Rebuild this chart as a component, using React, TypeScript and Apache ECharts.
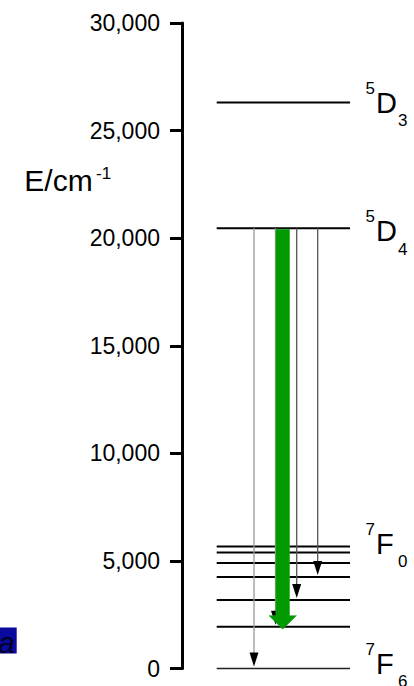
import React, { useEffect, useRef } from "react";
import * as echarts from "echarts";

// ---------- data ----------
const LEVEL_NAMES = ["7F6", "7F5", "7F4", "7F3", "7F2", "7F1", "7F0", "5D4", "5D3"];
const LEVEL_ENERGIES = [0, 1950, 3190, 4260, 4910, 5390, 5670, 20460, 26300];

const LABEL_LEVELS = ["5D3", "5D4", "7F0", "7F6"];
const LABEL_SUP = ["5", "5", "7", "7"];
const LABEL_MAIN = ["D", "D", "F", "F"];
const LABEL_SUB = ["3", "4", "0", "6"];

const SOURCE_LEVEL = "5D4";
const THIN_TARGETS = ["7F6", "7F5", "7F4", "7F3"];
const GREEN_TARGET = "7F5";

const Y_MIN = 0;
const Y_MAX = 30000;
const Y_STEP = 5000;

const AXIS_NAME = "E/cm";
const AXIS_NAME_SUP = "-1";
const CORNER_TEXT = "a";

// ---------- layout / style ----------
const FONT = "'Liberation Sans', Arial, sans-serif";
const X_MAX = 232;
const LINE_X0 = 34.7;
const LINE_X1 = 168;
const THIN_COLUMNS = [72, 93.5, 114.7, 135.7];
const THIN_COLORS = ["#999999", "#999999", "#555555", "#555555"];
const GREEN_COLUMN = 100.7;
const LABEL_COLUMN = 194;
const LABEL_DY = [0, 3, -3, -5];
const SMALL = 17;

const energyOf = (name: string) => LEVEL_ENERGIES[LEVEL_NAMES.indexOf(name)];

export default function App() {
  const ref = useRef<HTMLDivElement>(null);

  useEffect(() => {
    if (!ref.current) return;
    const chart = echarts.init(ref.current, undefined, { renderer: "svg" });

    const option: any = {
      animation: false,
      backgroundColor: "#ffffff",
      grid: { left: 182, right: 0, top: 23, bottom: 17.4 },
      xAxis: { type: "value", min: 0, max: X_MAX, show: false },
      yAxis: {
        type: "value",
        min: Y_MIN,
        max: Y_MAX,
        interval: Y_STEP,
        axisLine: { show: true, onZero: false, lineStyle: { color: "#000", width: 3 } },
        axisTick: { show: true, length: 12, lineStyle: { color: "#000", width: 3 } },
        splitLine: { show: false },
        axisLabel: {
          margin: 22,
          fontSize: 23,
          color: "#000",
          fontFamily: FONT,
          formatter: (v: number) => v.toLocaleString("en-US"),
        },
      },
      series: [
        {
          type: "custom",
          name: "levels",
          encode: { x: 0, y: 1 },
          data: LEVEL_ENERGIES.map((e) => [LINE_X0, e]),
          z: 2,
          renderItem: (params: any, api: any) => {
            const e = api.value(1);
            const p0 = api.coord([LINE_X0, e]);
            const p1 = api.coord([LINE_X1, e]);
            const ground = params.dataIndex === 0;
            return {
              type: "line",
              shape: { x1: p0[0], y1: p0[1], x2: p1[0], y2: p1[1] },
              style: { stroke: ground ? "#222" : "#000", lineWidth: ground ? 1.5 : 2 },
            };
          },
        },
        {
          type: "custom",
          name: "thin",
          encode: { x: 0, y: 1 },
          data: THIN_TARGETS.map((t, i) => [THIN_COLUMNS[i], energyOf(SOURCE_LEVEL), energyOf(t)]),
          z: 3,
          renderItem: (params: any, api: any) => {
            const x = api.value(0);
            const top = api.coord([x, api.value(1)]);
            const bot = api.coord([x, api.value(2)]);
            const px = top[0];
            const tipY = bot[1] - 2;
            const headLen = 14;
            const half = 4.5;
            return {
              type: "group",
              children: [
                {
                  type: "line",
                  shape: { x1: px, y1: top[1], x2: px, y2: tipY - headLen + 2 },
                  style: { stroke: THIN_COLORS[params.dataIndex], lineWidth: 1.3 },
                },
                {
                  type: "polygon",
                  shape: {
                    points: [
                      [px - half, tipY - headLen],
                      [px + half, tipY - headLen],
                      [px, tipY],
                    ],
                  },
                  style: { fill: "#000" },
                },
              ],
            };
          },
        },
        {
          type: "custom",
          name: "green",
          encode: { x: 0, y: 1 },
          data: [[GREEN_COLUMN, energyOf(SOURCE_LEVEL), energyOf(GREEN_TARGET)]],
          z: 4,
          renderItem: (params: any, api: any) => {
            const x = api.value(0);
            const top = api.coord([x, api.value(1)]);
            const bot = api.coord([x, api.value(2)]);
            const cx = top[0];
            const y0 = top[1] + 1;
            const yt = bot[1] + 2.5;
            const hs = 6.8;
            const hh = 13.7;
            const hl = 13.5;
            return {
              type: "polygon",
              shape: {
                points: [
                  [cx - hs, y0],
                  [cx + hs, y0],
                  [cx + hs, yt - hl],
                  [cx + hh, yt - hl],
                  [cx, yt],
                  [cx - hh, yt - hl],
                  [cx - hs, yt - hl],
                ],
              },
              style: { fill: "#009900", stroke: "#2aa52a", lineWidth: 0.6 },
            };
          },
        },
        {
          type: "custom",
          name: "terms",
          encode: { x: 0, y: 1 },
          data: LABEL_LEVELS.map((l) => [LABEL_COLUMN, energyOf(l)]),
          z: 5,
          renderItem: (params: any, api: any) => {
            const i = params.dataIndex;
            const p = api.coord([api.value(0), api.value(1)]);
            const mx = p[0];
            const cy = p[1] + LABEL_DY[i];
            return {
              type: "group",
              children: [
                {
                  type: "text",
                  x: mx - 1,
                  y: cy - 14.5,
                  style: {
                    text: LABEL_SUP[i],
                    fontSize: SMALL,
                    fontFamily: FONT,
                    fill: "#000",
                    align: "right",
                    verticalAlign: "middle",
                  },
                },
                {
                  type: "text",
                  x: mx,
                  y: cy,
                  style: {
                    text: LABEL_MAIN[i],
                    fontSize: 29,
                    fontFamily: FONT,
                    fill: "#000",
                    align: "left",
                    verticalAlign: "middle",
                  },
                },
                {
                  type: "text",
                  x: mx + 22,
                  y: cy + 18,
                  style: {
                    text: LABEL_SUB[i],
                    fontSize: SMALL,
                    fontFamily: FONT,
                    fill: "#000",
                    align: "left",
                    verticalAlign: "middle",
                  },
                },
              ],
            };
          },
        },
      ],
      graphic: [
        {
          type: "text",
          x: 24.3,
          y: 180.8,
          style: {
            text: AXIS_NAME,
            fontSize: 30,
            fontFamily: FONT,
            fill: "#000",
            align: "left",
            verticalAlign: "middle",
          },
        },
        {
          type: "text",
          x: 96,
          y: 173,
          style: {
            text: AXIS_NAME_SUP,
            fontSize: SMALL,
            fontFamily: FONT,
            fill: "#000",
            align: "left",
            verticalAlign: "middle",
          },
        },
        {
          type: "rect",
          shape: { x: 0, y: 627.5, width: 16.7, height: 26 },
          style: { fill: "#0a0a9e" },
        },
        {
          type: "text",
          x: -2,
          y: 642.5,
          style: {
            text: CORNER_TEXT,
            fontSize: 30,
            fontStyle: "italic",
            fontFamily: FONT,
            fill: "#000022",
            align: "left",
            verticalAlign: "middle",
          },
        },
      ],
    };

    chart.setOption(option);
    return () => chart.dispose();
  }, []);

  return (
    <div
      ref={ref}
      style={{ position: "absolute", left: 0, top: 0, width: 414, height: 686, background: "#fff" }}
    />
  );
}
